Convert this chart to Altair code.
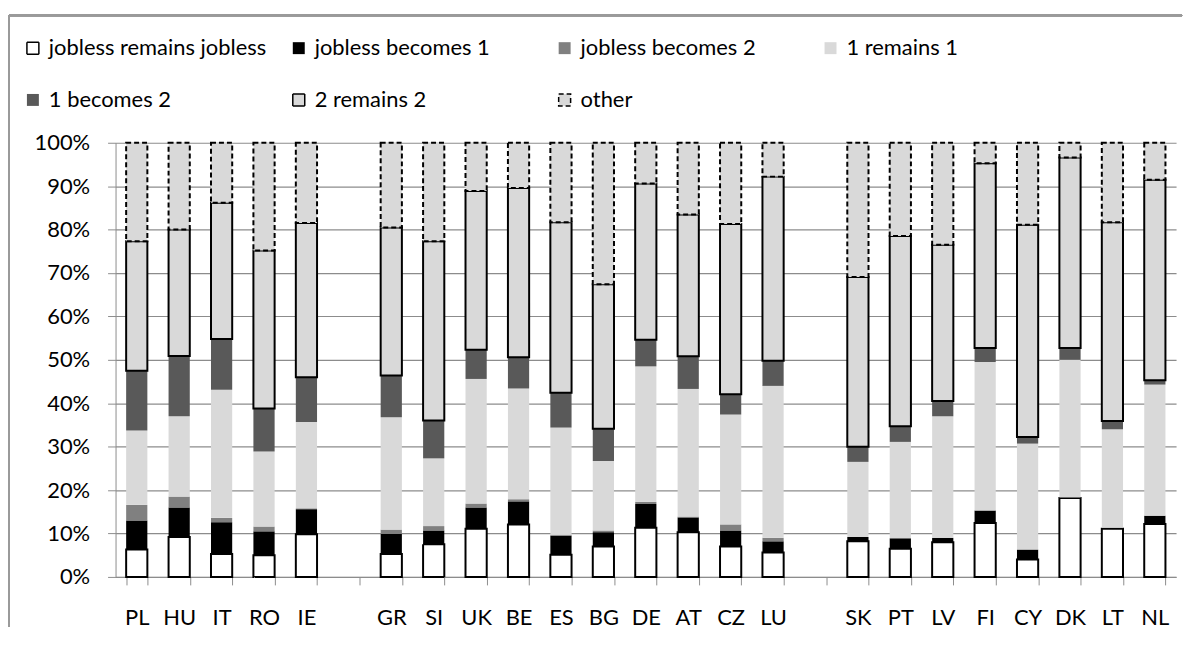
import altair as alt
import pandas as pd

countries = ["PL", "HU", "IT", "RO", "IE",
             "GR", "SI", "UK", "BE", "ES", "BG", "DE", "AT", "CZ", "LU",
             "SK", "PT", "LV", "FI", "CY", "DK", "LT", "NL"]
slots = countries[:5] + ["_1"] + countries[5:15] + ["_2"] + countries[15:]

series = ["jobless remains jobless", "jobless becomes 1", "jobless becomes 2",
          "1 remains 1", "1 becomes 2", "2 remains 2", "other"]

# percentages per country (segment sizes)
jobless_remains_jobless = [6.3, 9.2, 5.3, 5.0, 9.8, 5.3, 7.5, 11.1, 12.1, 5.1, 7.0, 11.3, 10.3, 7.0, 5.6,
                           8.2, 6.5, 8.0, 12.4, 4.0, 18.2, 11.1, 12.2]
jobless_becomes_1 = [6.7, 6.8, 7.3, 5.5, 5.8, 4.6, 3.2, 4.9, 5.3, 4.4, 3.3, 5.5, 3.4, 3.7, 2.6,
                     1.0, 2.4, 1.0, 2.9, 2.3, 0.1, 0.2, 1.9]
jobless_becomes_2 = [3.6, 2.5, 1.0, 1.1, 0.2, 1.0, 1.0, 0.9, 0.5, 0.2, 0.4, 0.5, 0.2, 1.4, 0.8,
                     0.0, 0.0, 0.0, 0.0, 0.0, 0.0, 0.0, 0.0]
one_remains_1 = [17.1, 18.5, 29.5, 17.3, 19.9, 25.9, 15.6, 28.7, 25.5, 24.7, 16.0, 31.2, 29.4, 25.3, 35.0,
                 17.3, 22.2, 28.0, 34.2, 24.4, 31.7, 22.7, 30.2]
one_becomes_2 = [13.8, 13.9, 11.7, 9.9, 10.3, 9.6, 8.7, 6.7, 7.2, 8.0, 7.4, 6.1, 7.5, 4.7, 5.8,
                 3.5, 3.6, 3.5, 3.2, 1.5, 2.7, 1.9, 1.0]
two_remains_2 = [29.8, 29.1, 31.4, 36.4, 35.5, 34.1, 41.3, 36.6, 39.0, 39.3, 33.3, 36.0, 32.7, 39.2, 42.4,
                 39.1, 43.8, 36.0, 42.6, 48.9, 43.9, 45.8, 46.2]
other = [22.7, 20.0, 13.8, 24.8, 18.5, 19.5, 22.7, 11.1, 10.4, 18.3, 32.6, 9.4, 16.5, 18.7, 7.8,
         30.9, 21.5, 23.5, 4.7, 18.9, 3.4, 18.3, 8.5]

fills = ["#ffffff", "#000000", "#808080", "#d9d9d9", "#595959", "#d9d9d9", "#d9d9d9"]
strokes = ["#000000", "transparent", "transparent", "transparent", "transparent", "#000000", "#000000"]
dashes = [[1, 0], [1, 0], [1, 0], [1, 0], [1, 0], [1, 0], [5, 3]]

cols = [jobless_remains_jobless, jobless_becomes_1, jobless_becomes_2,
        one_remains_1, one_becomes_2, two_remains_2, other]
rows = []
for si, (name, vals) in enumerate(zip(series, cols)):
    for c, v in zip(countries, vals):
        rows.append({"country": c, "series": name, "idx": si, "value": v / 100.0})
df = pd.DataFrame(rows)

W, H = 1065, 436
FONT = "Lato"
FS = 22
GRID = "#8c8c8c"

legend = alt.Legend(
    title=None, orient="none", legendX=-94, legendY=-106, columns=4,
    direction="horizontal", gridAlign="all", columnPadding=21, rowPadding=30,
    symbolType="square", symbolSize=144, symbolStrokeWidth=1.5,
    labelFont=FONT, labelFontSize=FS, labelColor="#000000", labelLimit=400,
    labelOffset=5,
)

bars = alt.Chart(df).mark_bar(strokeWidth=2).encode(
    x=alt.X("country:N", scale=alt.Scale(domain=slots, paddingInner=0.5, paddingOuter=0.25),
            axis=alt.Axis(title=None, labelAngle=0, tickBand="extent", tickSize=8,
                          tickColor=GRID, domainColor=GRID, labelPadding=23,
                          labelFont=FONT, labelFontSize=FS, labelColor="#000000",
                          labelExpr="substring(datum.label,0,1)=='_' ? '' : datum.label")),
    y=alt.Y("value:Q", stack="zero", scale=alt.Scale(domain=[0, 1], nice=False),
            axis=alt.Axis(title=None, values=[i / 10 for i in range(11)], format=".0%",
                          grid=True, gridColor=GRID, gridWidth=1.2, tickColor=GRID, tickSize=8,
                          domainColor=GRID, labelPadding=18, labelFont=FONT,
                          labelFontSize=FS, labelColor="#000000")),
    color=alt.Color("series:N", scale=alt.Scale(domain=series, range=fills), legend=legend),
    stroke=alt.Stroke("series:N", scale=alt.Scale(domain=series, range=strokes), legend=legend),
    strokeDash=alt.StrokeDash("series:N", scale=alt.Scale(domain=series, range=dashes), legend=legend),
    order=alt.Order("idx:Q", sort="ascending"),
)

top_border = alt.Chart(df).mark_rule(color="#9a9a9a", strokeWidth=2).encode(
    x=alt.value(-107), x2=alt.value(W + 6), y=alt.value(-128))
left_border = alt.Chart(df).mark_rule(color="#9a9a9a", strokeWidth=2).encode(
    x=alt.value(-107), y=alt.value(-128), y2=alt.value(H + 50))

chart = alt.layer(top_border, left_border, bars).properties(
    width=W, height=H, padding={"left": 0, "top": 5, "right": 5, "bottom": 5}
).configure_view(stroke=None)

chart.save("out.html", embed_options={"renderer": "svg", "actions": False})
